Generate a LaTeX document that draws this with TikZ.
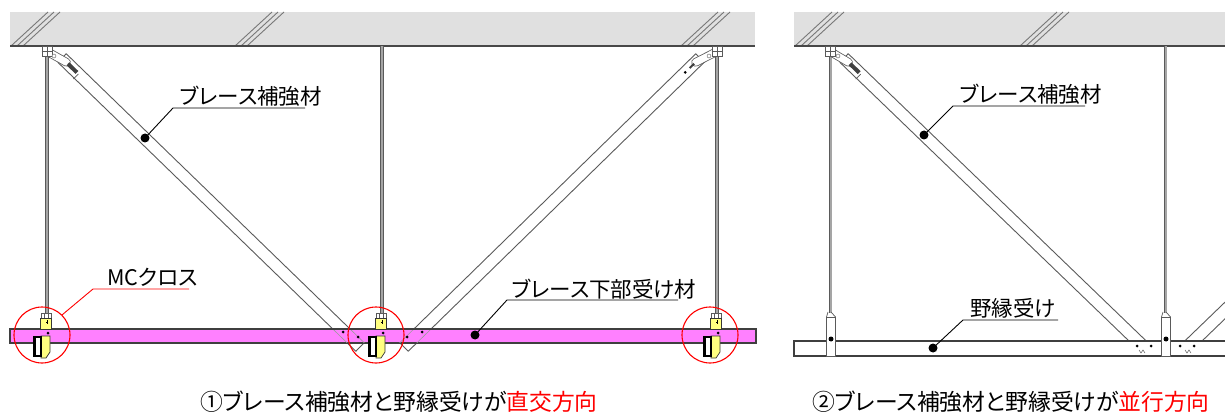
\documentclass[tikz,border=0pt]{standalone}
\usepackage{fontspec}
\newfontfamily\jp{Noto Sans CJK JP}[RawFeature=+palt]
\usetikzlibrary{calc}
\definecolor{slabc}{RGB}{224,224,224}
\definecolor{lineg}{RGB}{90,90,90}
\definecolor{hatchg}{RGB}{120,120,120}
\definecolor{rodfill}{RGB}{165,165,165}
\definecolor{mcpink}{RGB}{255,128,255}
\definecolor{mcyellow}{RGB}{255,255,128}
\newcommand\bracepath[3]{($(#1)!#3!90:(#2)$) -- ($(#2)!#3!-90:(#1)$) -- ($(#2)!#3!90:(#1)$) -- ($(#1)!#3!-90:(#2)$) -- cycle}
\begin{document}
\begin{tikzpicture}[x=1pt,y=-1pt,
  hatchln/.style={draw=hatchg, line width=0.9pt},
  slabline/.style={draw=lineg!80!black, line width=1.6pt},
  rod/.style={draw=lineg, line width=0.9pt, double=rodfill, double distance=2pt},
  bracebox/.style={draw=lineg, line width=0.9pt, fill=white, line join=round},
  faint/.style={draw=lineg!60, line width=0.6pt},
  link/.style={draw=lineg, line width=0.8pt, double=white, double distance=7pt, line cap=round},
  dotn/.style={circle, fill=black, inner sep=0pt, minimum size=9pt},
  bolt/.style={circle, fill=black, inner sep=0pt, minimum size=3pt},
  leader/.style={draw=black, line width=0.9pt},
  redleader/.style={draw=red, line width=0.9pt},
  redring/.style={circle, draw=red, line width=1.1pt, inner sep=0pt, minimum size=56pt},
  lbl/.style={anchor=base west, inner sep=0pt, font=\jp\fontsize{21.5}{24}\selectfont},
  capt/.style={anchor=base, inner sep=0pt, font=\jp\fontsize{22.8}{28}\selectfont},
  topclip/.style={draw=lineg, fill=white, line width=0.7pt, minimum width=10pt, minimum height=10pt, inner sep=0pt},
  hclip/.style={draw=lineg, fill=white, line width=0.8pt, minimum width=9pt, minimum height=39pt, inner sep=0pt, anchor=north}
]
\useasboundingbox (0,0) rectangle (1225,414);
\begin{scope}
\clip (0,0) rectangle (1225,414);
% ceiling slabs
\fill[slabc] (10,12) rectangle (755,46);
\fill[slabc] (794,12) rectangle (1225,46);
\foreach \x in {11,235,681,795,1020}{
  \foreach \k in {0,6,12}{
    \draw[hatchln] (\x+\k,46) -- (\x+\k+37,12);
  }
}
\draw[slabline] (10,46) -- (755,46);
\draw[slabline] (794,46) -- (1225,46);

% rods
\foreach \h in {47,382,717}{ \draw[rod] (\h,46) -- (\h,315); }
\foreach \h in {830.5,1165.5}{ \draw[rod] (\h,46) -- (\h,313); }

% brace coordinates
\coordinate (A1) at (62,58);   \coordinate (B1) at (360,347);
\coordinate (A2) at (700,58);  \coordinate (B2) at (404,347);
\coordinate (A3) at (844,58);  \coordinate (B3) at (1148,351);
\coordinate (A4) at (1495,50); \coordinate (B4) at (1183,351);

% braces
\draw[bracebox] \bracepath{A1}{B1}{6pt};
\draw[bracebox] \bracepath{A2}{B2}{6pt};
\draw[bracebox] \bracepath{A3}{B3}{6pt};
\draw[bracebox] \bracepath{A4}{B4}{6pt};

% top connectors
\draw[link] (48,52) -- ($(A1)!0.015!(B1)$);
\node[topclip] (tc1) at (47,51) {};
\draw[lineg, line width=0.5pt] (tc1.north) -- (tc1.south) (tc1.west) -- (tc1.east);
\node[circle, draw=lineg, fill=white, inner sep=0pt, minimum size=4pt] at (54,56) {};
\draw[line width=4pt, black!75] ($(A1)!0.02!(B1)$) -- ($(A1)!0.05!(B1)$);
\draw[lineg, line width=0.7pt] ($(A1)!0.055!(B1)$) -- ++(-5,5);

\draw[link] (716,52) -- ($(A2)!0.015!(B2)$);
\node[topclip] (tc2) at (717,51) {};
\draw[lineg, line width=0.5pt] (tc2.north) -- (tc2.south) (tc2.west) -- (tc2.east);
\node[circle, draw=lineg, fill=white, inner sep=0pt, minimum size=4pt] at (709,56) {};
\draw[line width=2pt, black!75] ($(A2)!0.02!(B2)$) -- ($(A2)!0.035!(B2)$);
\node[bolt] at ($(A2)!0.05!(B2)$) {};

\draw[link] (831,52) -- ($(A3)!0.015!(B3)$);
\node[topclip] (tc3) at (830.5,51) {};
\draw[lineg, line width=0.5pt] (tc3.north) -- (tc3.south) (tc3.west) -- (tc3.east);
\node[circle, draw=lineg, fill=white, inner sep=0pt, minimum size=4pt] at (838,56) {};
\draw[line width=4pt, black!75] ($(A3)!0.02!(B3)$) -- ($(A3)!0.05!(B3)$);
\draw[lineg, line width=0.7pt] ($(A3)!0.055!(B3)$) -- ++(-5,5);

% left bar (pink)
\draw[draw=lineg!70!black, line width=1.2pt, fill=mcpink] (10,329) rectangle (756,343);
\begin{scope}
\clip (10,330) rectangle (756,342);
\draw[faint] \bracepath{A1}{B1}{6pt};
\draw[faint] \bracepath{A2}{B2}{6pt};
\end{scope}
% right bar
\draw[draw=lineg!70!black, line width=1.2pt, fill=white] (794,341) rectangle (1230,356);

% MC clips (left panel)
\foreach \h in {47,382,717}{
  \draw[lineg, fill=white, line width=0.6pt] (\h-6,313) rectangle (\h+4,318);
  \draw[lineg, line width=0.5pt] (\h-3,313) -- (\h-3,318) (\h+1,313) -- (\h+1,318);
  \draw[lineg!60!black, fill=mcyellow, line width=0.7pt] (\h-7,318) rectangle (\h+4,329);
  \draw[black, line width=0.5pt] (\h-1,322) -- (\h+1,322) (\h,320) -- (\h,324);
  \draw[lineg!60!black, fill=mcyellow, line width=0.7pt] (\h-6,336) -- (\h+3,336) -- (\h+3,352) -- (\h-1,358) -- (\h-6,358) -- cycle;
  \draw[black, fill=white, line width=1.3pt] (\h-13,337) rectangle (\h-6,356);
  \draw[black, line width=2.5pt] (\h-12,338) -- (\h-12,356);
  \node[bolt] at (\h+1,333) {};
}

% right panel hanger clips
\foreach \h/\n in {831/hc1,1166/hc2}{
  \draw[lineg, line width=0.7pt] (\h-3,312) -- (\h-4.5,317) (\h,312) -- (\h+4.5,317);
  \node[hclip] (\n) at (\h,317) {};
  \node[circle, fill=black, inner sep=0pt, minimum size=5pt] at (\h,339) {};
}

% small bolts on bars
\foreach \p in {(343,332),(358,337),(407,337),(422,332),(1137,346),(1151,346),(1180,346),(1194,346)}{
  \node[bolt] at \p {};
}
\foreach \x in {1142,1188}{
  \draw[lineg, line width=0.5pt] (\x-3,350) -- (\x-1,353) -- (\x+1,350) -- (\x+3,353);
}

% red rings
\node[redring] (rc1) at (42,335) {};
\node[redring] (rc2) at (376,335) {};
\node[redring] (rc3) at (710,335) {};

% labels
\node[dotn] (d1) at (145,138) {};
\coordinate (k1) at (173,108); \coordinate (e1) at (305,108);
\node[lbl] (t1) at (180,105) {ブレース補強材};
\draw[leader] (d1.center) -- (k1) -- (e1);

\node[dotn] (d2) at (475,335) {};
\coordinate (k2) at (507,300); \coordinate (e2) at (678,300);
\node[lbl] (t2) at (512,297) {ブレース下部受け材};
\draw[leader] (d2.center) -- (k2) -- (e2);

\node[dotn] (d3) at (924,135) {};
\coordinate (k3) at (953,106); \coordinate (e3) at (1085,106);
\node[lbl] (t3) at (960,103) {ブレース補強材};
\draw[leader] (d3.center) -- (k3) -- (e3);

\node[dotn] (d4) at (933,348) {};
\coordinate (k4) at (963,320); \coordinate (e4) at (1058,320);
\node[lbl] (t4) at (970,316) {野縁受け};
\draw[leader] (d4.center) -- (k4) -- (e4);

\coordinate (k5) at (93,289); \coordinate (e5) at (189,289);
\node[lbl] (t5) at (107,285) {MCクロス};
\draw[redleader] (rc1.north east) -- (k5) -- (e5);

% captions
\node[capt] (cap1) at (399,410) {①ブレース補強材と野縁受けが\textcolor{red}{直交方向}};
\node[capt] (cap2) at (1011,410) {②ブレース補強材と野縁受けが\textcolor{red}{並行方向}};
\end{scope}
\end{tikzpicture}
\end{document}
